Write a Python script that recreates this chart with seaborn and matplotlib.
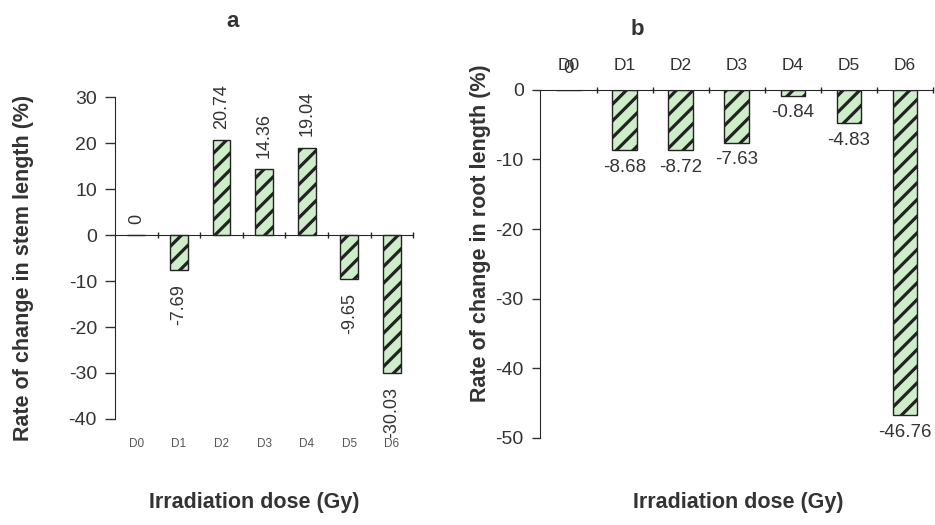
import numpy as np
import matplotlib.pyplot as plt
import seaborn as sns

sns.set_style("ticks")
plt.rcParams['font.family'] = ['Liberation Sans', 'DejaVu Sans']
plt.rcParams['hatch.linewidth'] = 2.3
plt.rcParams['axes.unicode_minus'] = False

# data
doses = ["D0", "D1", "D2", "D3", "D4", "D5", "D6"]
stem_change = [0, -7.69, 20.74, 14.36, 19.04, -9.65, -30.03]
root_change = [0, -8.68, -8.72, -7.63, -0.84, -4.83, -46.76]

FILL = "#cdeec9"
TXT = "#333333"


def draw_bars(ax, values, width):
    sns.barplot(x=doses, y=values, ax=ax, color=FILL, width=width,
                edgecolor="#222222", linewidth=1.0, hatch="//",
                saturation=1)
    ax.set_xlim(-0.5, len(doses) - 0.5)


fig = plt.figure(figsize=(9.35, 5.25), dpi=100)
fig.patch.set_facecolor("white")

# ---- panel a: stem length ----
axa = fig.add_axes([0.123, 0.202, 0.319, 0.613])
draw_bars(axa, stem_change, 0.42)
axa.set_ylim(-40, 30)
axa.set_yticks(np.arange(-40, 31, 10))
axa.spines['top'].set_visible(False)
axa.spines['right'].set_visible(False)
axa.spines['bottom'].set_position(('data', 0))
axa.set_xticks(np.arange(len(doses)))
axa.set_xticklabels([])
axa.tick_params(axis='x', which='major', length=0)
axa.set_xticks(np.arange(0.5, len(doses)), minor=True)
axa.tick_params(axis='x', which='minor', length=4, direction='inout', width=1)
axa.tick_params(axis='y', labelsize=14, length=7, width=1, pad=6, colors=TXT)
sec = axa.secondary_xaxis('bottom')
sec.set_xticks(np.arange(len(doses)), doses)
sec.tick_params(length=0, labelsize=8.5, colors="#555555", pad=14)
sec.spines['bottom'].set_visible(False)
for i, v in enumerate(stem_change):
    off = 8 if v >= 0 else -10
    axa.annotate(f"{v:g}", (i, v), xytext=(0, off), textcoords="offset points",
                 rotation=90, ha="center", va="bottom" if v >= 0 else "top",
                 fontsize=13, color=TXT, annotation_clip=False)
axa.set_ylabel("Rate of change in stem length (%)", fontsize=15.5,
               fontweight="bold", color=TXT)
axa.yaxis.set_label_coords(-0.27, 0.47)
axa.set_xlabel("Irradiation dose (Gy)", fontsize=15.5, fontweight="bold", color=TXT)
axa.xaxis.set_label_coords(0.468, -0.227)
axa.text(0.393, 1.235, "a", transform=axa.transAxes, ha="center", va="center",
         fontsize=16, fontweight="bold", color=TXT)

# ---- panel b: root length ----
axb = fig.add_axes([0.578, 0.166, 0.42, 0.663])
draw_bars(axb, root_change, 0.44)
axb.set_ylim(-50, 0)
axb.set_yticks(np.arange(-50, 1, 10))
axb.spines['bottom'].set_visible(False)
axb.spines['right'].set_visible(False)
axb.xaxis.tick_top()
axb.set_xticks(np.arange(len(doses)), doses)
axb.tick_params(axis='x', which='major', length=0, labelsize=12.5, pad=12,
                colors=TXT)
axb.set_xticks(np.arange(0.5, len(doses)), minor=True)
axb.tick_params(axis='x', which='minor', length=4, direction='inout', width=1,
                top=True, bottom=False)
axb.tick_params(axis='y', labelsize=14, length=6, width=1, pad=6, colors=TXT)
for i, v in enumerate(root_change):
    off = 9 if v >= 0 else -6
    axb.annotate(f"{v:g}", (i, v), xytext=(0, off), textcoords="offset points",
                 ha="center", va="bottom" if v >= 0 else "top",
                 fontsize=13.5, color=TXT, annotation_clip=False)
axb.set_ylabel("Rate of change in root length (%)", fontsize=15.5,
               fontweight="bold", color=TXT)
axb.yaxis.set_label_coords(-0.125, 0.589)
axb.xaxis.set_label_position('bottom')
axb.set_xlabel("Irradiation dose (Gy)", fontsize=15.5, fontweight="bold", color=TXT)
axb.xaxis.set_label_coords(0.5025, -0.155)
axb.text(0.247, 1.172, "b", transform=axb.transAxes, ha="center", va="center",
         fontsize=16, fontweight="bold", color=TXT)

fig.savefig("out.png", dpi=100)
